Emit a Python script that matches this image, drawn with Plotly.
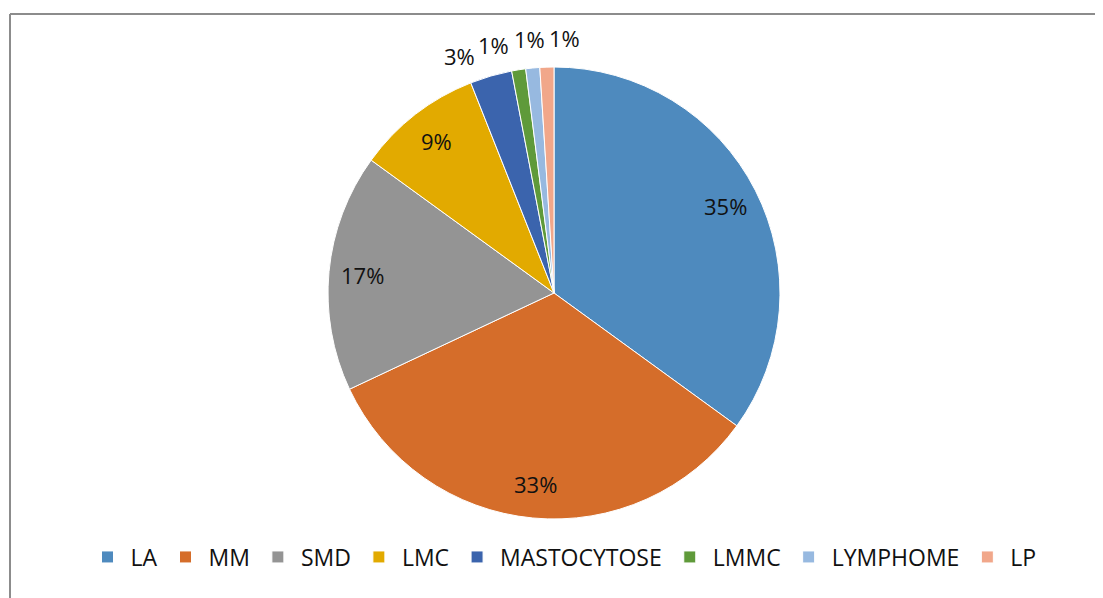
import numpy as np
import plotly.graph_objects as go

# data
categories = ['LA', 'MM', 'SMD', 'LMC', 'MASTOCYTOSE', 'LMMC', 'LYMPHOME', 'LP']
shares = [35, 33, 17, 9, 3, 1, 1, 1]
colors = ['#4E8ABE', '#D56D2A', '#949494', '#E2AA00',
          '#3B64AD', '#5F9A3A', '#97B9E0', '#F1A78A']

PAGE = 8                            # body margin of the html page
W, H = 1103 - PAGE, 598 - PAGE
CX, CY, R = 554 - PAGE, 293 - PAGE, 226   # pie centre / radius in pixels
FONT = 'Open Sans'


def label_positions(values):
    total = float(sum(values))
    cum = np.cumsum([0] + list(values))[:-1]
    mids = (cum + np.array(values) / 2.0) / total * 360.0
    small = np.array(values) / total < 0.05
    angles = mids.copy()
    # spread the crowded outside labels around their mean angle
    idx = np.where(small)[0]
    if len(idx) > 1:
        step = 8.0
        centre = mids[idx].mean() - 1.5
        angles[idx] = centre + (np.arange(len(idx)) - (len(idx) - 1) / 2.0) * step
    radius = np.where(small, 1.13 * R, 0.85 * R)
    px = CX + radius * np.sin(np.radians(angles))
    py = CY - radius * np.cos(np.radians(angles))
    return px, py


fig = go.Figure()

fig.add_trace(go.Pie(
    labels=categories,
    values=shares,
    sort=False,
    direction='clockwise',
    rotation=0,
    marker=dict(colors=colors, line=dict(color='white', width=1)),
    textinfo='none',
    hoverinfo='label+percent',
    domain=dict(x=[(CX - R) / W, (CX + R) / W],
                y=[1 - (CY + R) / H, 1 - (CY - R) / H]),
))

lx, ly = label_positions(shares)
total = sum(shares)
annotations = []
for v, x, y in zip(shares, lx, ly):
    annotations.append(dict(
        x=x / W, y=1 - y / H, xref='paper', yref='paper',
        text=f'{round(100 * v / total)}%', showarrow=False,
        xanchor='center', yanchor='middle',
        font=dict(family=FONT, size=22, color='#111111'),
    ))

# chart frame: only the top and left edges fall inside the window
x_left = (10 - PAGE) / W
y_top = 1 - (14 - PAGE) / H
frame = dict(color='#8C8C8C', width=2)

fig.update_layout(
    width=W, height=H,
    margin=dict(l=0, r=0, t=0, b=0),
    paper_bgcolor='white',
    plot_bgcolor='white',
    annotations=annotations,
    showlegend=True,
    legend=dict(
        orientation='h',
        x=(563 - PAGE) / W, xanchor='center',
        y=1 - (557 - PAGE) / H, yanchor='middle',
        font=dict(family=FONT, size=23, color='#111111'),
        itemwidth=36,
        itemclick=False,
    ),
    shapes=[
        dict(type='line', xref='paper', yref='paper',
             x0=x_left, x1=1.05, y0=y_top, y1=y_top, line=frame),
        dict(type='line', xref='paper', yref='paper',
             x0=x_left, x1=x_left, y0=-0.05, y1=y_top, line=frame),
    ],
)

fig.write_html('out.html')
